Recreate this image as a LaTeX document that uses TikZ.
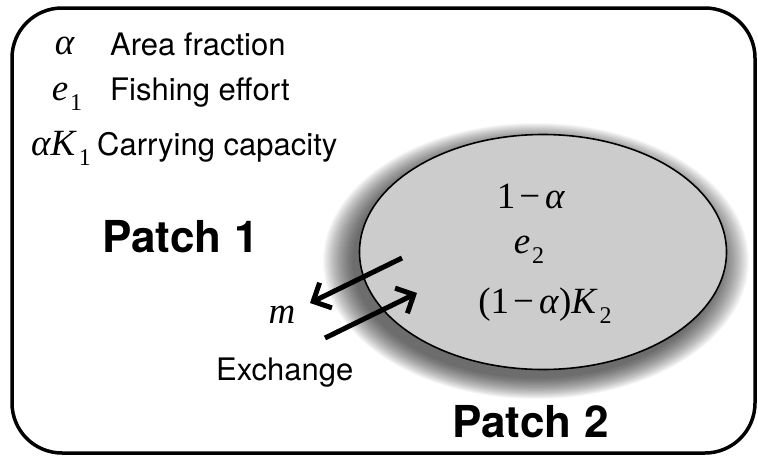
\documentclass[tikz,border=0pt]{standalone}
\usepackage{fontspec}
\setmainfont{TeX Gyre Heros}
\newfontfamily\timesfont{Liberation Serif}
\newcommand\lowsub[1]{\hspace{2pt}\raisebox{-10pt}{\fontsize{24}{26}\selectfont #1}}
\newcommand\minus{\hspace{4pt}\textup{\char"2212}\hspace{5pt}}
\usetikzlibrary{shapes.geometric,arrows.meta}

\begin{document}
\begin{tikzpicture}[x=1pt,y=-1pt,
  mytext/.style={inner sep=0pt,font=\fontsize{31}{37}\selectfont},
  mymath/.style={inner sep=0pt,font=\fontsize{37}{42}\selectfont\timesfont},
  mytitle/.style={inner sep=0pt,font=\fontsize{44}{52}\selectfont\bfseries},
  myarrow/.style={line width=5pt,-{Straight Barb[length=14pt,width=28pt]}}]

        \useasboundingbox (0,0) rectangle (758,456);

        %frame
        \draw[line width=3.5pt,rounded corners=50pt] (12,8) rectangle (755,453);

        %shadow
        \foreach \k in {30,29,...,0}
          \fill[black,opacity=0.027] (536,261) ellipse [x radius={183+\k}, y radius={117+0.7*\k}];

        %patch 2
        \node[draw,ellipse,line width=1.6pt,fill=black!20,minimum width=367pt,minimum height=235pt] (P2) at (543,252) {};

        %legend
        \node[mymath,anchor=base] (alpha) at (65,54) {\textit{α}};
        \node[mymath,anchor=base] (e1) at (67,100) {\textit{e}\lowsub{1}};
        \node[mymath,anchor=base] (K1) at (61,155) {\textit{αK}\lowsub{1}};
        \node[mytext,anchor=base west] (area) at (110,55) {Area fraction};
        \node[mytext,anchor=base west] (effort) at (110,100) {Fishing effort};
        \node[mytext,anchor=base west] (capacity) at (97,155) {Carrying capacity};

        %label patch
        \node[mytitle,anchor=base west] (title1) at (102,252) {Patch 1};
        \node[mytitle,anchor=base west] (title2) at (452,437) {Patch 2};

        %values patch 2
        \node[mymath,anchor=base] (alpha2) at (531,208) {1\minus\textit{α}};
        \node[mymath,anchor=base] (e2) at (529,253) {\textit{e}\lowsub{2}};
        \node[mymath,anchor=base] (K2) at (545,313) {(1\minus\textit{α})\textit{K}\lowsub{2}};

        %exchange arrows
        \coordinate (out1) at (402,258);
        \coordinate (out2) at (310,303);
        \coordinate (in1) at (325,338);
        \coordinate (in2) at (417,293);
        \draw[myarrow] (out1) -- (out2);
        \draw[myarrow] (in1) -- (in2);

        \node[mymath,anchor=base] (m) at (282,323) {\textit{m}};
        \node[mytext,anchor=base west] (exchange) at (216,380) {Exchange};
\end{tikzpicture}
\end{document}
